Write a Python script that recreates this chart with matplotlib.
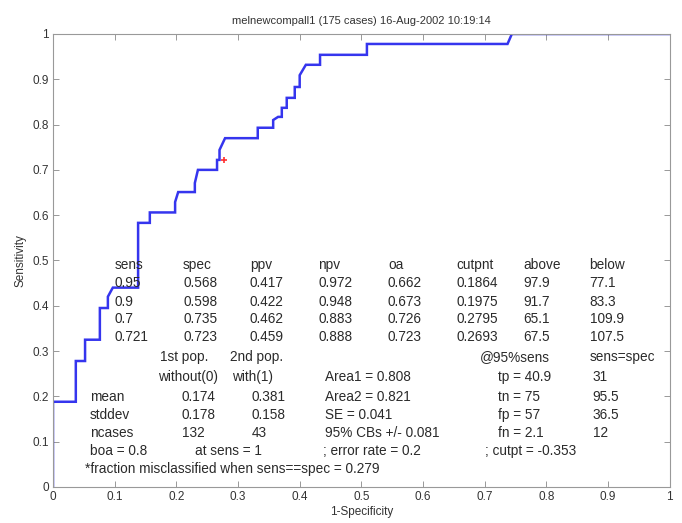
import matplotlib
matplotlib.use("Agg")
import matplotlib.pyplot as plt

plt.rcParams['font.family'] = ['Liberation Sans', 'DejaVu Sans']

# ROC curve vertices (1-specificity, sensitivity)
fpr = [0, 0, 0.037, 0.037, 0.052, 0.052, 0.076, 0.076, 0.089, 0.089, 0.097, 0.138, 0.138,
       0.157, 0.157, 0.198, 0.198, 0.203, 0.230, 0.230, 0.235, 0.266, 0.266, 0.270, 0.270,
       0.279, 0.332, 0.332, 0.357, 0.357, 0.365, 0.371, 0.371, 0.379, 0.379, 0.392, 0.392,
       0.400, 0.400, 0.410, 0.433, 0.433, 0.509, 0.509, 0.737, 0.744, 1.0]
tpr = [0, 0.188, 0.188, 0.278, 0.278, 0.325, 0.325, 0.395, 0.395, 0.420, 0.440, 0.440, 0.583,
       0.583, 0.606, 0.606, 0.629, 0.651, 0.651, 0.671, 0.700, 0.700, 0.722, 0.722, 0.744,
       0.770, 0.770, 0.793, 0.793, 0.810, 0.817, 0.817, 0.837, 0.837, 0.859, 0.859, 0.883,
       0.883, 0.909, 0.932, 0.932, 0.954, 0.954, 0.978, 0.978, 1.0, 1.0]

eq_point = (0.277, 0.721)

title = "melnewcompall1 (175 cases) 16-Aug-2002 10:19:14"

table_header = ["sens", "spec", "ppv", "npv", "oa", "cutpnt", "above", "below"]
table_rows = [
    ["0.95", "0.568", "0.417", "0.972", "0.662", "0.1864", "97.9", "77.1"],
    ["0.9", "0.598", "0.422", "0.948", "0.673", "0.1975", "91.7", "83.3"],
    ["0.7", "0.735", "0.462", "0.883", "0.726", "0.2795", "65.1", "109.9"],
    ["0.721", "0.723", "0.459", "0.888", "0.723", "0.2693", "67.5", "107.5"],
]

stats_lines = [
    ["", "1st pop.", "2nd pop.", "", "@95%sens", "sens=spec"],
    ["", "without(0)", "with(1)", "Area1 = 0.808", "tp = 40.9", "31"],
    ["mean", "0.174", "0.381", "Area2 = 0.821", "tn = 75", "95.5"],
    ["stddev", "0.178", "0.158", "SE = 0.041", "fp = 57", "36.5"],
    ["ncases", "132", "43", "95% CBs +/- 0.081", "fn = 2.1", "12"],
]
footer1 = ["boa = 0.8", "at sens = 1", "; error rate = 0.2", "; cutpt = -0.353"]
footer2 = "*fraction misclassified when sens==spec = 0.279"

fig = plt.figure(figsize=(6.82, 5.23), dpi=100)
ax = fig.add_axes([0.0777, 0.069, 0.9043, 0.866])

ax.plot(fpr, tpr, color='#3535ee', lw=1.8, solid_joinstyle='miter')
ax.plot([eq_point[0]], [eq_point[1]], marker='+', color='#ff3030', ms=4.5, mew=1.2)

ax.set_xlim(0, 1)
ax.set_ylim(0, 1)
ticks = [i / 10 for i in range(11)]
labels = ["0"] + [f"{t:.1f}" for t in ticks[1:-1]] + ["1"]
ax.set_xticks(ticks)
ax.set_xticklabels(labels)
ax.set_yticks(ticks)
ax.set_yticklabels(labels)
ax.tick_params(direction='in', top=True, right=True, length=4, width=0.6,
               colors='#888888', labelcolor='#333333', labelsize=8.5, pad=3)
for s in ax.spines.values():
    s.set_color('#999999')
    s.set_linewidth(0.8)

ax.set_xlabel("1-Specificity", fontsize=8.5, color='#333333', labelpad=2)
ax.set_ylabel("Sensitivity", fontsize=8.5, color='#333333', labelpad=4)
ax.set_title(title, fontsize=8.0, color='#333333', pad=7)

tc = '#2a2a2a'
fs = 9.8
col_x = [0.100, 0.211, 0.319, 0.430, 0.543, 0.654, 0.762, 0.870]
row_y = [0.490, 0.450, 0.408, 0.370, 0.331]
for x, h in zip(col_x, table_header):
    ax.text(x, row_y[0], h, fontsize=fs, color=tc, va='center', ha='left')
for r, row in enumerate(table_rows):
    for x, v in zip(col_x, row):
        ax.text(x, row_y[r + 1], v, fontsize=fs, color=tc, va='center', ha='left')

st_y = [0.287, 0.243, 0.199, 0.159, 0.119]
st_x_per_row = [
    [0.060, 0.173, 0.287, 0.441, 0.692, 0.870],
    [0.060, 0.170, 0.290, 0.441, 0.721, 0.875],
    [0.060, 0.209, 0.322, 0.441, 0.721, 0.875],
    [0.060, 0.209, 0.322, 0.441, 0.721, 0.875],
    [0.060, 0.209, 0.322, 0.441, 0.721, 0.875],
]
for r, row in enumerate(stats_lines):
    for x, v in zip(st_x_per_row[r], row):
        if v:
            ax.text(x, st_y[r], v, fontsize=fs, color=tc, va='center', ha='left')

f1_x = [0.060, 0.230, 0.438, 0.700]
for x, v in zip(f1_x, footer1):
    ax.text(x, 0.079, v, fontsize=fs, color=tc, va='center', ha='left')
ax.text(0.052, 0.040, footer2, fontsize=fs, color=tc, va='center', ha='left')

fig.savefig("out.png", dpi=100, facecolor='white')
